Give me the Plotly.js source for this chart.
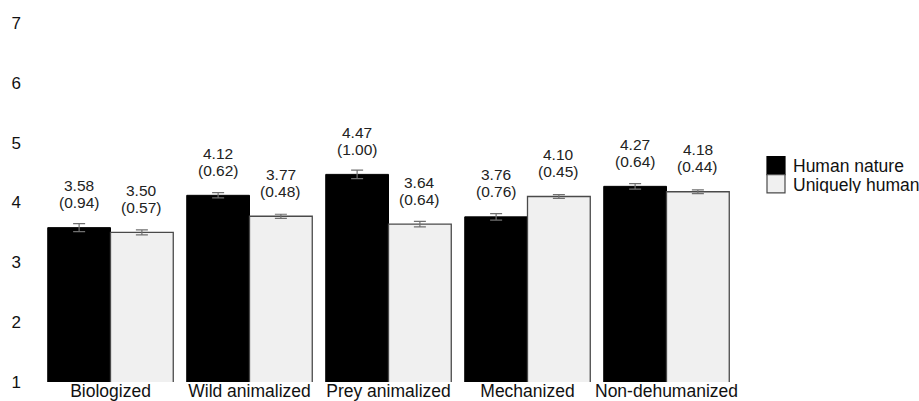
<!DOCTYPE html>
<html>
<head>
<meta charset="utf-8">
<script src="https://cdn.plot.ly/plotly-3.0.1.min.js"></script>
<style>
  html, body { margin: 0; padding: 0; background: #fff; }
  #chart { width: 919px; height: 401px; }
</style>
</head>
<body>
<div id="chart"></div>
<script>
// Dehumanization conditions on the x axis
const categories = ["Biologized", "Wild animalized", "Prey animalized", "Mechanized", "Non-dehumanized"];

// Mean ratings, standard deviations (printed in brackets) and standard errors (error bars)
const humanNatureMean = [3.58, 4.12, 4.47, 3.76, 4.27];
const humanNatureSD   = [0.94, 0.62, 1.00, 0.76, 0.64];
const humanNatureSE   = [0.067, 0.044, 0.071, 0.054, 0.046];

const uniquelyHumanMean = [3.50, 3.77, 3.64, 4.10, 4.18];
const uniquelyHumanSD   = [0.57, 0.48, 0.64, 0.45, 0.44];
const uniquelyHumanSE   = [0.041, 0.034, 0.046, 0.032, 0.031];

const seriesNames = ["Human nature", "Uniquely human"];
const yTicks = [1, 2, 3, 4, 5, 6, 7];

const FONT = "Liberation Sans, Arial, sans-serif";
const BARGAP = 0.097;

const margin = { l: 41, r: 183, t: 23, b: 19 };
const W = 919, H = 401;
const plotW = W - margin.l - margin.r;
const plotH = H - margin.t - margin.b;
// pixel -> paper helpers for the hand-drawn legend
const px = v => (v - margin.l) / plotW;
const py = v => (H - margin.b - v) / plotH;

const errStyle = { type: "data", visible: true, color: "#707070", thickness: 1.2, width: 6 };

const traces = [
  {
    type: "bar", name: seriesNames[0], x: categories, y: humanNatureMean,
    marker: { color: "#000000", line: { color: "#000000", width: 1 } },
    error_y: Object.assign({ array: humanNatureSE }, errStyle),
    hoverinfo: "skip"
  },
  {
    type: "bar", name: seriesNames[1], x: categories, y: uniquelyHumanMean,
    marker: { color: "#f0f0f0", line: { color: "#4a4a4a", width: 1.3 } },
    error_y: Object.assign({ array: uniquelyHumanSE }, errStyle),
    hoverinfo: "skip"
  }
];

// value labels: mean on the first line, (SD) on the second
const half = (1 - BARGAP) / 4;
const annotations = [];
function addLabels(means, sds, offset) {
  means.forEach((m, i) => {
    annotations.push({
      x: i + offset, y: m, xref: "x", yref: "y",
      text: m.toFixed(2), showarrow: false, yanchor: "middle", yshift: 42,
      font: { family: FONT, size: 15.5, color: "#222" }
    });
    annotations.push({
      x: i + offset, y: m, xref: "x", yref: "y",
      text: "(" + sds[i].toFixed(2) + ")", showarrow: false, yanchor: "middle", yshift: 25,
      font: { family: FONT, size: 15.5, color: "#222" }
    });
  });
}
addLabels(humanNatureMean, humanNatureSD, -half);
addLabels(uniquelyHumanMean, uniquelyHumanSD, half);

// legend: two stacked swatches with their labels
const legendFill = ["#000000", "#f0f0f0"];
const legendLine = ["#000000", "#4a4a4a"];
const shapes = [];
seriesNames.forEach((name, k) => {
  const top = 156.5 + k * 18.2;
  shapes.push({
    type: "rect", xref: "paper", yref: "paper",
    x0: px(767), x1: px(785), y0: py(top), y1: py(top + 18.2),
    fillcolor: legendFill[k], line: { color: legendLine[k], width: 1.2 }
  });
  annotations.push({
    xref: "paper", yref: "paper", x: px(792), y: py(top + 9.3),
    xanchor: "left", yanchor: "middle", showarrow: false, text: name,
    height: 17, borderpad: 0,
    font: { family: FONT, size: 17.5, color: "#111" }
  });
});

const layout = {
  width: W, height: H,
  margin: margin,
  paper_bgcolor: "#ffffff", plot_bgcolor: "#ffffff",
  barmode: "group", bargap: BARGAP, bargroupgap: 0,
  showlegend: false,
  font: { family: FONT, color: "#111" },
  xaxis: {
    type: "category", range: [-0.5, categories.length - 0.5],
    showline: false, showgrid: false, zeroline: false, ticks: "",
    tickfont: { family: FONT, size: 17.5, color: "#111" },
    ticklabelstandoff: -4
  },
  yaxis: {
    range: [1, 7], tickvals: yTicks, ticktext: yTicks.map(String),
    showline: false, showgrid: false, zeroline: false, ticks: "",
    tickfont: { family: FONT, size: 17, color: "#111" },
    ticklabelstandoff: 19
  },
  shapes: shapes,
  annotations: annotations
};

Plotly.newPlot("chart", traces, layout, { staticPlot: true, displayModeBar: false });
</script>
</body>
</html>
